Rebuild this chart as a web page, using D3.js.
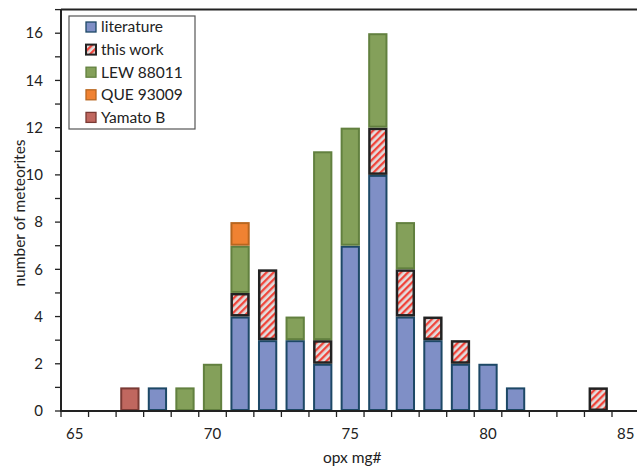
<!DOCTYPE html>
<html>
<head>
<meta charset="utf-8">
<script src="https://cdn.jsdelivr.net/npm/d3@7"></script>
<style>
  body { margin: 0; background: #fff; }
  svg { display: block; font-family: Lato, "Open Sans", sans-serif; }
</style>
</head>
<body>
<svg id="chart" width="638" height="469"></svg>
<script>
// histogram bins (opx mg#)
const bins = [65, 66, 67, 68, 69, 70, 71, 72, 73, 74, 75, 76, 77, 78, 79, 80, 81, 82, 83, 84, 85]
const literature = [0, 0, 0, 1, 0, 0, 4, 3, 3, 2, 7, 10, 4, 3, 2, 2, 1, 0, 0, 0, 0]
const thisWork = [0, 0, 0, 0, 0, 0, 1, 3, 0, 1, 0, 2, 2, 1, 1, 0, 0, 0, 0, 1, 0]
const lew88011 = [0, 0, 0, 0, 1, 2, 2, 0, 1, 8, 5, 4, 2, 0, 0, 0, 0, 0, 0, 0, 0]
const que93009 = [0, 0, 0, 0, 0, 0, 1, 0, 0, 0, 0, 0, 0, 0, 0, 0, 0, 0, 0, 0, 0]
const yamatoB = [0, 0, 1, 0, 0, 0, 0, 0, 0, 0, 0, 0, 0, 0, 0, 0, 0, 0, 0, 0, 0]
const seriesNames = ['literature', 'this work', 'LEW 88011', 'QUE 93009', 'Yamato B']
const xTickLabels = [65, 70, 75, 80, 85]
const yTickLabels = [0, 2, 4, 6, 8, 10, 12, 14, 16]

const svg = d3.select('#chart')
const margin = { left: 61, top: 9, bottom: 411 }
const step = 27.55

const x = d3.scaleBand()
  .domain(bins)
  .range([margin.left, margin.left + bins.length * step])
  .paddingInner(0.3)
  .paddingOuter(0.15)
const y = d3.scaleLinear().domain([0, 17]).range([margin.bottom, margin.top + 0.6])
const xEnd = 637

// hatch pattern for "this work"
const defs = svg.append('defs')
const pat = defs.append('pattern')
  .attr('id', 'hatch')
  .attr('patternUnits', 'userSpaceOnUse')
  .attr('width', 5)
  .attr('height', 5)
  .attr('patternTransform', 'rotate(45)')
pat.append('rect').attr('width', 5).attr('height', 5).attr('fill', '#e2dede')
pat.append('rect').attr('width', 2.3).attr('height', 5).attr('fill', '#f0443a')

const styles = {
  'literature': { fill: '#7f8fc6', stroke: '#1d4866', sw: 2 },
  'this work': { fill: 'url(#hatch)', stroke: '#222', sw: 2.5 },
  'LEW 88011': { fill: '#84a05a', stroke: '#62803f', sw: 2 },
  'QUE 93009': { fill: '#f08232', stroke: '#b8661f', sw: 2 },
  'Yamato B': { fill: '#c0675f', stroke: '#7a3a34', sw: 2 }
}

const rows = bins.map((b, i) => ({
  bin: b,
  'literature': literature[i],
  'this work': thisWork[i],
  'LEW 88011': lew88011[i],
  'QUE 93009': que93009[i],
  'Yamato B': yamatoB[i]
}))
const stacked = d3.stack().keys(seriesNames)(rows)

// plot frame (top edge)
svg.append('line')
  .attr('x1', margin.left).attr('x2', xEnd)
  .attr('y1', y(17)).attr('y2', y(17))
  .attr('stroke', '#222').attr('stroke-width', 2)

// bars
const bw = x.bandwidth()
stacked.forEach(layer => {
  const st = styles[layer.key]
  svg.append('g')
    .selectAll('rect')
    .data(layer.filter(d => d[1] - d[0] > 0))
    .join('rect')
    .attr('x', d => x(d.data.bin) + st.sw / 2)
    .attr('y', d => y(d[1]) + st.sw / 2)
    .attr('width', bw - st.sw)
    .attr('height', d => y(d[0]) - y(d[1]) - st.sw)
    .attr('fill', st.fill)
    .attr('stroke', st.stroke)
    .attr('stroke-width', st.sw)
})

// y axis
const yAxis = svg.append('g')
yAxis.append('line')
  .attr('x1', margin.left).attr('x2', margin.left)
  .attr('y1', y(17)).attr('y2', y(0))
  .attr('stroke', '#222').attr('stroke-width', 2)
yAxis.selectAll('.ytick')
  .data(d3.range(0, 18))
  .join('line')
  .attr('class', 'ytick')
  .attr('x1', margin.left - 6).attr('x2', margin.left)
  .attr('y1', d => y(d)).attr('y2', d => y(d))
  .attr('stroke', '#222').attr('stroke-width', 1.3)
yAxis.selectAll('.ylab')
  .data(yTickLabels)
  .join('text')
  .attr('class', 'ylab')
  .attr('x', 43)
  .attr('y', d => y(d))
  .attr('dy', '0.35em')
  .attr('text-anchor', 'end')
  .attr('font-size', 15)
  .attr('fill', '#222')
  .text(d => d)

// x axis: ticks between categories
const xAxis = svg.append('g')
xAxis.append('line')
  .attr('x1', margin.left - 1).attr('x2', xEnd)
  .attr('y1', y(0)).attr('y2', y(0))
  .attr('stroke', '#222').attr('stroke-width', 2)
xAxis.selectAll('.xtick')
  .data(bins)
  .join('line')
  .attr('class', 'xtick')
  .attr('x1', d => x(d) - x.step() * x.paddingInner() / 2)
  .attr('x2', d => x(d) - x.step() * x.paddingInner() / 2)
  .attr('y1', y(0)).attr('y2', y(0) + 6)
  .attr('stroke', '#222').attr('stroke-width', 1.3)
xAxis.selectAll('.xlab')
  .data(xTickLabels)
  .join('text')
  .attr('class', 'xlab')
  .attr('x', d => x(d) + bw / 2)
  .attr('y', 434)
  .attr('dy', '0.35em')
  .attr('text-anchor', 'middle')
  .attr('font-size', 15)
  .attr('fill', '#222')
  .text(d => d)

// axis titles
svg.append('text')
  .attr('x', x(75) + bw / 2 + 2)
  .attr('y', 458)
  .attr('dy', '0.35em')
  .attr('text-anchor', 'middle')
  .attr('font-size', 15.5)
  .attr('fill', '#222')
  .text('opx mg#')
svg.append('text')
  .attr('transform', `translate(20,213) rotate(-90)`)
  .attr('dy', '0.35em')
  .attr('text-anchor', 'middle')
  .attr('font-size', 15.5)
  .attr('fill', '#222')
  .text('number of meteorites')

// legend
const legend = svg.append('g').attr('transform', 'translate(69,16)')
legend.append('rect')
  .attr('width', 126).attr('height', 113)
  .attr('fill', '#fff').attr('stroke', '#555').attr('stroke-width', 1.2)
const item = legend.selectAll('.item')
  .data(seriesNames)
  .join('g')
  .attr('class', 'item')
  .attr('transform', (d, i) => `translate(17,${11 + i * 22.6})`)
item.append('rect')
  .attr('y', -5).attr('width', 10).attr('height', 10)
  .attr('fill', d => styles[d].fill)
  .attr('stroke', d => styles[d].stroke)
  .attr('stroke-width', d => d === 'this work' ? 2 : 1.3)
item.append('text')
  .attr('x', 15)
  .attr('dy', '0.35em')
  .attr('font-size', 15.5)
  .attr('fill', '#222')
  .text(d => d)
</script>
</body>
</html>
